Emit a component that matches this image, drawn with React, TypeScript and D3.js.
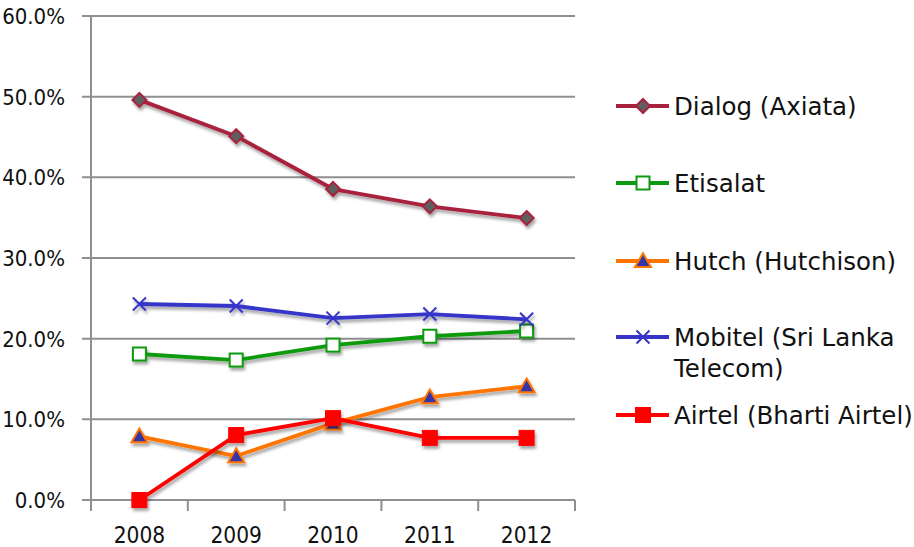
import * as d3 from "d3"

const years = ["2008", "2009", "2010", "2011", "2012"]
const yTicks = [0, 0.1, 0.2, 0.3, 0.4, 0.5, 0.6]

const dialog = [0.496, 0.451, 0.3855, 0.364, 0.3495]
const etisalat = [0.181, 0.1735, 0.192, 0.203, 0.2095]
const hutch = [0.079, 0.0545, 0.095, 0.1275, 0.141]
const mobitel = [0.243, 0.2405, 0.2255, 0.2305, 0.224]
const airtel = [0.0, 0.0805, 0.1015, 0.077, 0.077]

type Series = { name: string[]; values: number[]; color: string; marker: string; fill: string }

const series: Series[] = [
  { name: ["Dialog (Axiata)"], values: dialog, color: "#A8213D", marker: "diamond", fill: "#5f5f5f" },
  { name: ["Etisalat"], values: etisalat, color: "#0E9A0E", marker: "square", fill: "#ffffff" },
  { name: ["Hutch (Hutchison)"], values: hutch, color: "#FF7400", marker: "triangle", fill: "#3434A8" },
  { name: ["Mobitel (Sri Lanka", "Telecom)"], values: mobitel, color: "#3535C8", marker: "x", fill: "none" },
  { name: ["Airtel (Bharti Airtel)"], values: airtel, color: "#FF0000", marker: "bigsquare", fill: "#FF0000" },
]

const FONT = "'DejaVu Sans', Verdana, sans-serif"
const AXIS_FONT = "'DejaVu Sans Condensed', 'DejaVu Sans', sans-serif"

function Marker({ kind, x, y, color, fill }: { kind: string; x: number; y: number; color: string; fill: string }) {
  if (kind === "diamond") {
    const s = 7
    return <path d={`M${x},${y - s}L${x + s},${y}L${x},${y + s}L${x - s},${y}Z`} fill={fill} stroke={color} strokeWidth={2} />
  }
  if (kind === "square") {
    return <rect x={x - 6.5} y={y - 6.5} width={13} height={13} fill={fill} stroke={color} strokeWidth={2} />
  }
  if (kind === "bigsquare") {
    return <rect x={x - 7.5} y={y - 7.5} width={15} height={15} fill={fill} stroke={color} strokeWidth={1} />
  }
  if (kind === "triangle") {
    const sym = d3.symbol(d3.symbolTriangle, 110)()
    return <path d={sym || ""} transform={`translate(${x},${y + 1.5})`} fill={fill} stroke={color} strokeWidth={2} />
  }
  const s = 6.5
  return (
    <path
      d={`M${x - s},${y - s}L${x + s},${y + s}M${x - s},${y + s}L${x + s},${y - s}`}
      stroke={color}
      strokeWidth={2}
      fill="none"
    />
  )
}

export default function App() {
  const width = 914
  const height = 547
  const left = 91
  const right = 575
  const top = 16
  const bottom = 500

  const x = d3.scaleBand().domain(years).range([left, right])
  const y = d3.scaleLinear().domain([0, 0.6]).range([bottom, top])
  const fmt = d3.format(".1%")

  const line = d3
    .line<number>()
    .x((_, i) => (x(years[i]) as number) + x.bandwidth() / 2)
    .y((d) => y(d))

  const legendY = [106, 183, 261, 337, 415]

  return (
    <svg width={width} height={height} style={{ position: "absolute", left: 0, top: 0, background: "#fff" }} fontFamily={FONT}>
      <defs>
        <filter id="shadow" x="-50%" y="-50%" width="200%" height="200%">
          <feDropShadow dx="1.5" dy="3" stdDeviation="1.8" floodColor="#000" floodOpacity="0.35" />
        </filter>
      </defs>

      {/* gridlines */}
      {yTicks.map((t) => (
        <line key={t} x1={left - 9} x2={right} y1={y(t)} y2={y(t)} stroke="#8f8f8f" strokeWidth={2} />
      ))}
      <line x1={left} x2={left} y1={top} y2={bottom + 1} stroke="#8f8f8f" strokeWidth={2} />
      {d3.range(years.length + 1).map((i) => {
        const xx = left + i * x.bandwidth()
        return <line key={i} x1={xx} x2={xx} y1={bottom} y2={bottom + 11} stroke="#8f8f8f" strokeWidth={2} />
      })}

      {/* axis labels */}
      {yTicks.map((t) => (
        <text key={t} x={65} y={y(t)} dy="0.37em" textAnchor="end" fontSize={22} fill="#111" fontFamily={AXIS_FONT}>
          {fmt(t)}
        </text>
      ))}
      {years.map((yr) => (
        <text
          key={yr}
          x={(x(yr) as number) + x.bandwidth() / 2}
          y={543}
          textAnchor="middle"
          fontSize={22.5}
          fill="#111"
          fontFamily={AXIS_FONT}
        >
          {yr}
        </text>
      ))}

      {/* series */}
      {series.map((s) => (
        <g key={s.name.join(" ")} filter="url(#shadow)">
          <path d={line(s.values) || ""} fill="none" stroke={s.color} strokeWidth={3.8} strokeLinejoin="round" />
          {s.values.map((v, i) => (
            <Marker
              key={i}
              kind={s.marker}
              x={(x(years[i]) as number) + x.bandwidth() / 2}
              y={y(v)}
              color={s.color}
              fill={s.fill}
            />
          ))}
        </g>
      ))}

      {/* legend */}
      {series.map((s, i) => (
        <g key={s.name.join(" ")}>
          <line x1={616} x2={669} y1={legendY[i]} y2={legendY[i]} stroke={s.color} strokeWidth={3.8} />
          <Marker kind={s.marker} x={643} y={legendY[i]} color={s.color} fill={s.fill} />
          {s.name.map((n, j) => (
            <text key={j} x={674} y={legendY[i] + j * 31} dy="0.36em" fontSize={24.5} fill="#111">
              {n}
            </text>
          ))}
        </g>
      ))}
    </svg>
  )
}
